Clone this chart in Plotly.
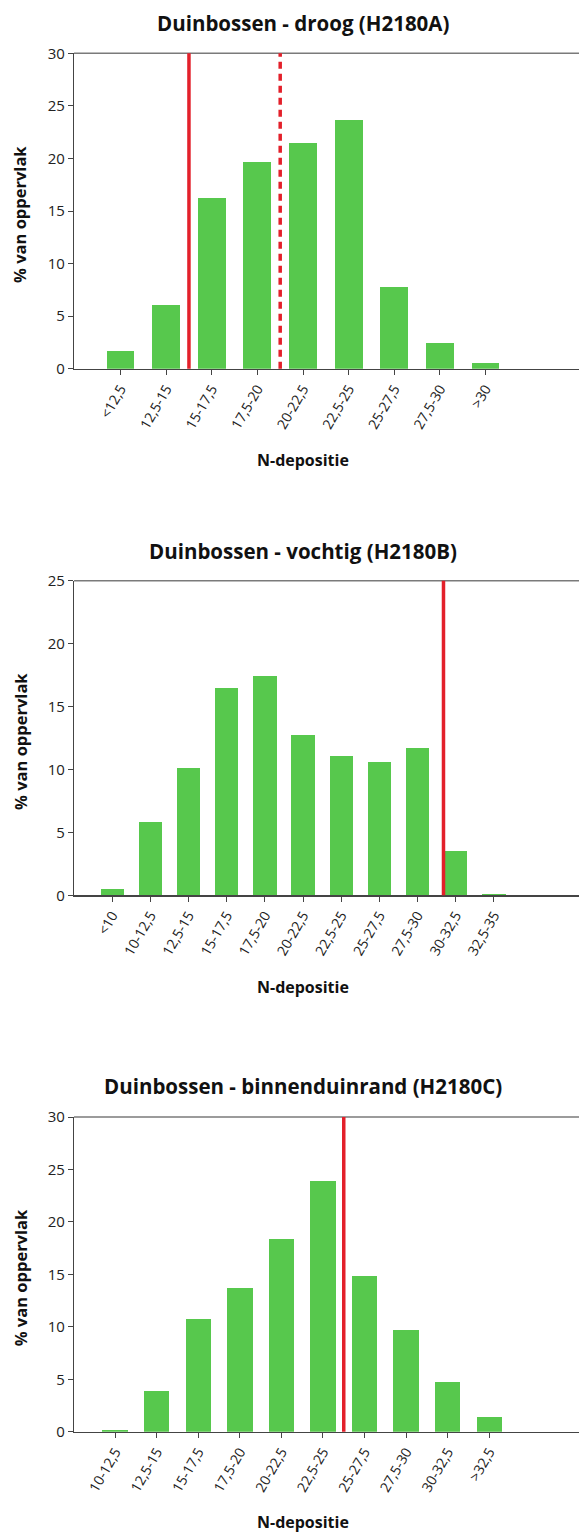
import plotly.graph_objects as go

W, H = 579, 1533

titles = ["Duinbossen - droog (H2180A)",
          "Duinbossen - vochtig (H2180B)",
          "Duinbossen - binnenduinrand (H2180C)"]

cats_a = ["<12,5", "12,5-15", "15-17,5", "17,5-20", "20-22,5", "22,5-25", "25-27,5", "27,5-30", ">30"]
vals_a = [1.7, 6.1, 16.2, 19.7, 21.5, 23.7, 7.8, 2.45, 0.55]

cats_b = ["<10", "10-12,5", "12,5-15", "15-17,5", "17,5-20", "20-22,5", "22,5-25", "25-27,5", "27,5-30", "30-32,5", "32,5-35"]
vals_b = [0.5, 5.8, 10.1, 16.45, 17.4, 12.7, 11.05, 10.6, 11.7, 3.5, 0.1]

cats_c = ["10-12,5", "12,5-15", "15-17,5", "17,5-20", "20-22,5", "22,5-25", "25-27,5", "27,5-30", "30-32,5", ">32,5"]
vals_c = [0.15, 3.9, 10.7, 13.7, 18.4, 23.9, 14.85, 9.7, 4.75, 1.4]

# critical deposition lines, as position on category axis
kdw_a = 1.5
kdw_a_dashed = 3.5
kdw_b = 8.68
kdw_c = 5.5

ymax = [30, 25, 30]
xrange_ = [[-1.02, 10.05], [-1.0, 12.23], [-0.99, 11.16]]

# pixel layout (top, bottom) of plot areas
tops = [53.3, 580.7, 1117.0]
bots = [368.7, 895.3, 1431.7]
title_y = [23, 551, 1086]
xtitle_y = [460, 987, 1522]

GREEN = "#57C84D"
RED = "#E3202A"
FONT = "Open Sans"

fig = go.Figure()
data = [(cats_a, vals_a), (cats_b, vals_b), (cats_c, vals_c)]
for i, (cats, vals) in enumerate(data):
    n = "" if i == 0 else str(i + 1)
    fig.add_trace(go.Bar(x=list(range(len(cats))), y=vals, marker_color=GREEN,
                         marker_line_width=0, width=0.61,
                         xaxis="x" + n, yaxis="y" + n, showlegend=False))
    xd = dict(domain=[74 / W, 1.0], range=xrange_[i], tickmode="array",
              tickvals=list(range(len(cats))), ticktext=cats, tickangle=-60,
              ticks="outside", ticklen=5, tickcolor="#444", showline=True,
              linecolor="#444", linewidth=1.5, showgrid=False, zeroline=False,
              tickfont=dict(family=FONT, size=14, color="#222"),
              anchor="y" + n, fixedrange=True, automargin=False)
    yd = dict(domain=[1 - bots[i] / H, 1 - tops[i] / H], range=[0, ymax[i]],
              dtick=5, ticks="outside", ticklen=5, tickcolor="#444",
              showline=True, linecolor="#444", linewidth=1.2, showgrid=False,
              zeroline=False, tickfont=dict(family=FONT, size=15, color="#222"),
              anchor="x" + n, fixedrange=True, automargin=False)
    fig.update_layout(**{"xaxis" + n: xd, "yaxis" + n: yd})
    # top border line
    fig.add_shape(type="line", xref="x" + n + " domain", yref="y" + n + " domain",
                  x0=0, x1=1, y0=1, y1=1, line=dict(color="#7a7a7a", width=1.5))
    # titles
    fig.add_annotation(text="<b>" + titles[i] + "</b>", xref="paper", yref="paper",
                       x=303 / W, y=1 - title_y[i] / H, showarrow=False,
                       font=dict(family=FONT, size=20.5, color="#111"),
                       xanchor="center", yanchor="middle")
    fig.add_annotation(text="<b>N-depositie</b>", xref="paper", yref="paper",
                       x=303 / W, y=1 - xtitle_y[i] / H, showarrow=False,
                       font=dict(family=FONT, size=16, color="#111"),
                       xanchor="center", yanchor="middle")
    fig.add_annotation(text="<b>% van oppervlak</b>", xref="paper", yref="paper",
                       x=20 / W, y=1 - ((tops[i] + bots[i]) / 2 + 4) / H, showarrow=False,
                       textangle=-90, font=dict(family=FONT, size=16.5, color="#111"),
                       xanchor="center", yanchor="middle")

def vline(xpos, n, dash="solid"):
    fig.add_shape(type="line", xref="x" + n, yref="y" + n + " domain",
                  x0=xpos, x1=xpos, y0=0, y1=1,
                  line=dict(color=RED, width=3.5, dash=dash))

vline(kdw_a, "")
vline(kdw_a_dashed, "", dash="7px,5px")
vline(kdw_b, "2")
vline(kdw_c, "3")

fig.update_layout(width=W, height=H, margin=dict(l=0, r=0, t=0, b=0, pad=0, autoexpand=False),
                  paper_bgcolor="white", plot_bgcolor="white", bargap=0)

fig.write_html("out.html", config={"displayModeBar": False, "staticPlot": True},
               post_script="document.body.style.margin='0';document.body.style.padding='0';"
                           "document.documentElement.style.overflow='hidden';")
